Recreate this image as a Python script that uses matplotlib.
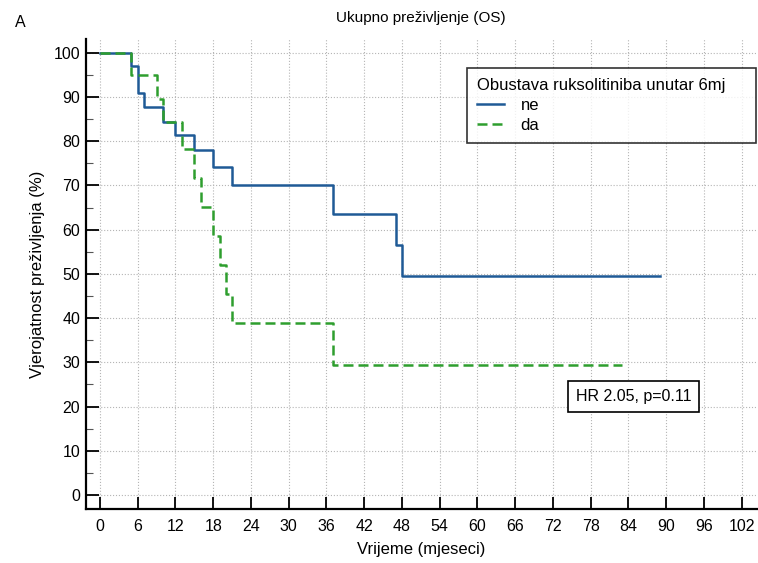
import numpy as np
import matplotlib
matplotlib.use("Agg")
from matplotlib import pyplot as plt

plt.rcParams['font.family'] = ['Liberation Sans', 'DejaVu Sans']

# Kaplan-Meier steps (months, survival %)
ne_time = [0, 5, 6, 7, 10, 12, 15, 18, 21, 37, 47, 48, 89]
ne_surv = [100, 96.9, 90.8, 87.8, 84.3, 81.3, 77.9, 74.1, 70.0, 63.6, 56.5, 49.5, 49.5]
da_time = [0, 5, 9, 10, 13, 15, 16, 18, 19, 20, 21, 37, 83]
da_surv = [100, 94.9, 89.5, 84.4, 78.3, 71.6, 65.2, 58.6, 52.0, 45.5, 39.0, 29.4, 29.4]

x_ticks = list(range(0, 103, 6))
y_ticks = list(range(0, 101, 10))

fig = plt.figure(figsize=(7.58, 5.63), dpi=100)
ax = fig.add_axes([0.1131, 0.0959, 0.8852, 0.8348])

ax.step(ne_time, ne_surv, where='post', color='#1f5a96', lw=1.8, label='ne')
ax.step(da_time, da_surv, where='post', color='#2e9e2e', lw=1.8, ls=(0, (4, 2)), label='da')

ax.set_xlim(-2.27, 104.4)
ax.set_ylim(-3.17, 103.1)
ax.set_xticks(x_ticks)
ax.set_yticks(y_ticks)
ax.set_yticks(np.arange(5, 100, 10), minor=True)
ax.tick_params(axis='x', direction='in', length=8.4, width=1.3, labelsize=11.5, pad=7)
ax.tick_params(axis='y', direction='in', length=9.4, width=1.3, labelsize=11.5, pad=4)
ax.tick_params(axis='y', which='minor', direction='in', length=4.8, width=0.8, color='#555555')
ax.grid(True, which='major', ls=':', color='#b5b5b5', lw=0.8)

for s in ['top', 'right']:
    ax.spines[s].set_visible(False)
for s in ['left', 'bottom']:
    ax.spines[s].set_linewidth(1.6)

ax.set_xlabel('Vrijeme (mjeseci)', fontsize=12, labelpad=6)
ax.set_ylabel('Vjerojatnost preživljenja (%)', fontsize=12, labelpad=6)
ax.set_title('Ukupno preživljenje (OS)', fontsize=11, pad=12)
fig.text(0.02, 0.96, 'A', fontsize=11.5, va='center')

leg = ax.legend(title='Obustava ruksolitiniba unutar 6mj', loc='upper left',
                bbox_to_anchor=(0.5687, 0, 0.4303, 0.9377), mode='expand', borderaxespad=0,
                fontsize=12, title_fontsize=12,
                frameon=True, fancybox=False, edgecolor='black', handlelength=1.6,
                handletextpad=1.0, alignment='left', borderpad=0.6, labelspacing=0.3)
leg.get_frame().set_linewidth(1.2)

ax.text(0.8164, 0.2404, 'HR 2.05, p=0.11', transform=ax.transAxes, fontsize=11.5,
        ha='center', va='center',
        bbox=dict(boxstyle='square,pad=0.5', fc='white', ec='black', lw=1.2))

fig.savefig('out.png', dpi=100)
